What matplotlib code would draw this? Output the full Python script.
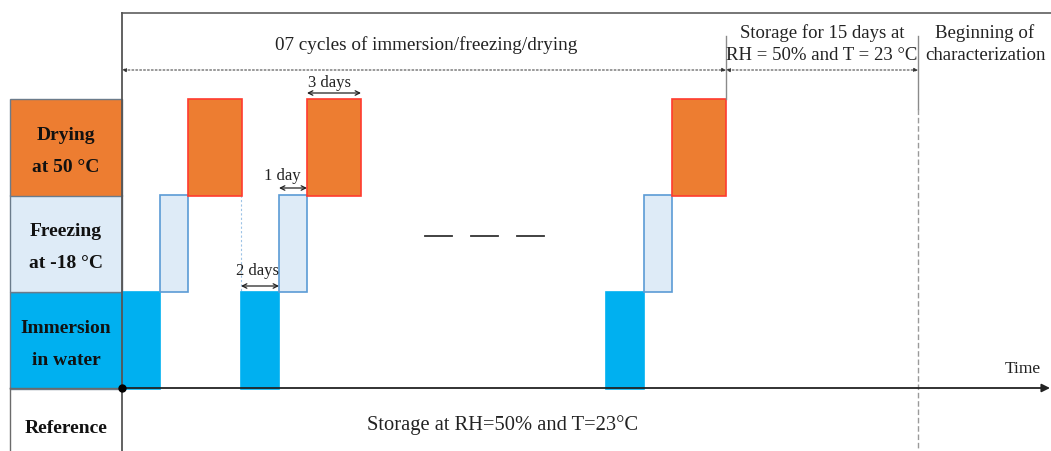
import matplotlib
matplotlib.use("Agg")
import matplotlib.pyplot as plt
from matplotlib.patches import Rectangle

# ---- data (schematic time units, origin at start of first immersion) ----
stages = ["Immersion\nin water", "Freezing\nat -18 °C", "Drying\nat 50 °C"]
stage_widths = [38, 28, 54]            # 2 days, 1 day, 3 days (schematic)
cycle_starts = [0, 119, 484]           # cycles 1, 2 and 7
storage_end = 796                      # end of 15-day storage
duration_labels = ["2 days", "1 day", "3 days"]
top_labels = ["07 cycles of immersion/freezing/drying",
              "Storage for 15 days at\nRH = 50% and T = 23 °C",
              "Beginning of\ncharacterization"]
reference_label = "Reference"
reference_text = "Storage at RH=50% and T=23°C"

face_colors = ["#00B0F0", "#DEEBF7", "#ED7D31"]
edge_colors = ["#00B0F0", "#5B9BD5", "#FF3B2F"]

# ---- layout ----
W, H = 1051, 452
fig = plt.figure(figsize=(W / 100, H / 100), dpi=100)
ax = fig.add_axes([0, 0, 1, 1])
ax.set_xlim(0, W)
ax.set_ylim(H, 0)
ax.axis("off")
plt.rcParams["font.family"] = ["Liberation Serif", "DejaVu Serif"]
FONT = ["Liberation Serif", "DejaVu Serif"]

x0 = 122                       # time origin
row_top = [293, 196, 100]      # immersion, freezing, drying
row_h = 96.5
axis_y = 389
label_left = 10

# left label boxes
for i, name in enumerate(stages):
    ax.add_patch(Rectangle((label_left, row_top[i]), x0 - label_left, row_h,
                           facecolor=face_colors[i], edgecolor="#6b7b8b", lw=1.0, zorder=2))
    ax.text((label_left + x0) / 2, row_top[i] + row_h / 2 + 3.5, name, ha="center", va="center",
            fontsize=14, fontweight="bold", family=FONT, linespacing=2.15, color="#111111", zorder=3)

# reference row box
ax.plot([label_left, label_left], [axis_y, H], color="#6b6b6b", lw=1.0)
ax.text((label_left + x0) / 2, 429, reference_label, ha="center", va="center",
        fontsize=14, fontweight="bold", family=FONT, color="#111111")
ax.text(503, 425, reference_text, ha="center", va="center", fontsize=14.8, family=FONT, color="#222222")

# cycle blocks
for cs in cycle_starts:
    x = x0 + cs
    for i in range(3):
        ax.add_patch(Rectangle((x, row_top[i]), stage_widths[i], row_h,
                               facecolor=face_colors[i], edgecolor=edge_colors[i],
                               lw=1.2, zorder=2))
        x += stage_widths[i]

# dotted guide between end of cycle 1 and start of cycle 2
xg = x0 + cycle_starts[1]
ax.plot([xg, xg], [row_top[1], row_top[0]], color="#9DC3E6", lw=0.8, ls=(0, (2, 2)), zorder=1)

# duration annotations on cycle 2
c2 = x0 + cycle_starts[1]
edges = [c2, c2 + stage_widths[0], c2 + stage_widths[0] + stage_widths[1],
         c2 + sum(stage_widths)]
ann_y = [287, 189, 94]
txt_y = [271, 176, 83]
txt_dx = [-2, -11, -4]
for i in range(3):
    ax.annotate("", xy=(edges[i], ann_y[i]), xytext=(edges[i + 1], ann_y[i]),
                arrowprops=dict(arrowstyle="<->", color="#222222", lw=0.9,
                                shrinkA=0, shrinkB=0, mutation_scale=8))
    ax.text((edges[i] + edges[i + 1]) / 2 + txt_dx[i], txt_y[i], duration_labels[i], ha="center",
            va="center", fontsize=12, family=FONT, color="#222222")

# ellipsis dashes
for xa in [425, 471, 517]:
    ax.plot([xa, xa + 27], [237, 237], color="#333333", lw=1.3)

# frame lines
ax.plot([x0, W], [14, 14], color="#6b6b6b", lw=1.3)
ax.plot([x0, x0], [14, H], color="#555555", lw=1.3)
cycles_end = x0 + cycle_starts[-1] + sum(stage_widths)
store_end = x0 + storage_end
ax.plot([cycles_end, cycles_end], [37, 100], color="#8a8a8a", lw=1.0)
ax.plot([store_end, store_end], [37, 110], color="#8a8a8a", lw=1.0)
ax.plot([store_end, store_end], [110, H], color="#9a9a9a", lw=1.0, ls=(0, (4, 2)))

# dotted span arrows
for a, b in [(x0, cycles_end), (cycles_end, store_end)]:
    ax.annotate("", xy=(a, 71), xytext=(b, 71),
                arrowprops=dict(arrowstyle="<|-|>", color="#333333", lw=0.7, ls=(0, (2, 2)),
                                shrinkA=0, shrinkB=0, mutation_scale=6))

ax.text((x0 + cycles_end) / 2 + 2, 45, top_labels[0], ha="center", va="center",
        fontsize=13.8, family=FONT, color="#222222")
ax.text((cycles_end + store_end) / 2, 44, top_labels[1], ha="center", va="center",
        fontsize=13.5, family=FONT, color="#222222", linespacing=1.4)
ax.text(985, 44, top_labels[2], ha="center", va="center",
        fontsize=13.6, family=FONT, color="#222222", linespacing=1.4)

# time axis
ax.annotate("", xy=(W - 1, axis_y), xytext=(x0, axis_y),
            arrowprops=dict(arrowstyle="-|>", color="#222222", lw=1.3,
                            shrinkA=0, shrinkB=0, mutation_scale=12))
ax.text(1023, 369, "Time", ha="center", va="center", fontsize=12.5, family=FONT, color="#222222")
ax.plot([label_left, x0], [axis_y, axis_y], color="#6b6b6b", lw=1.0)
ax.plot([x0], [axis_y], "o", color="black", ms=5, zorder=5)

fig.savefig("out.png", dpi=100)
